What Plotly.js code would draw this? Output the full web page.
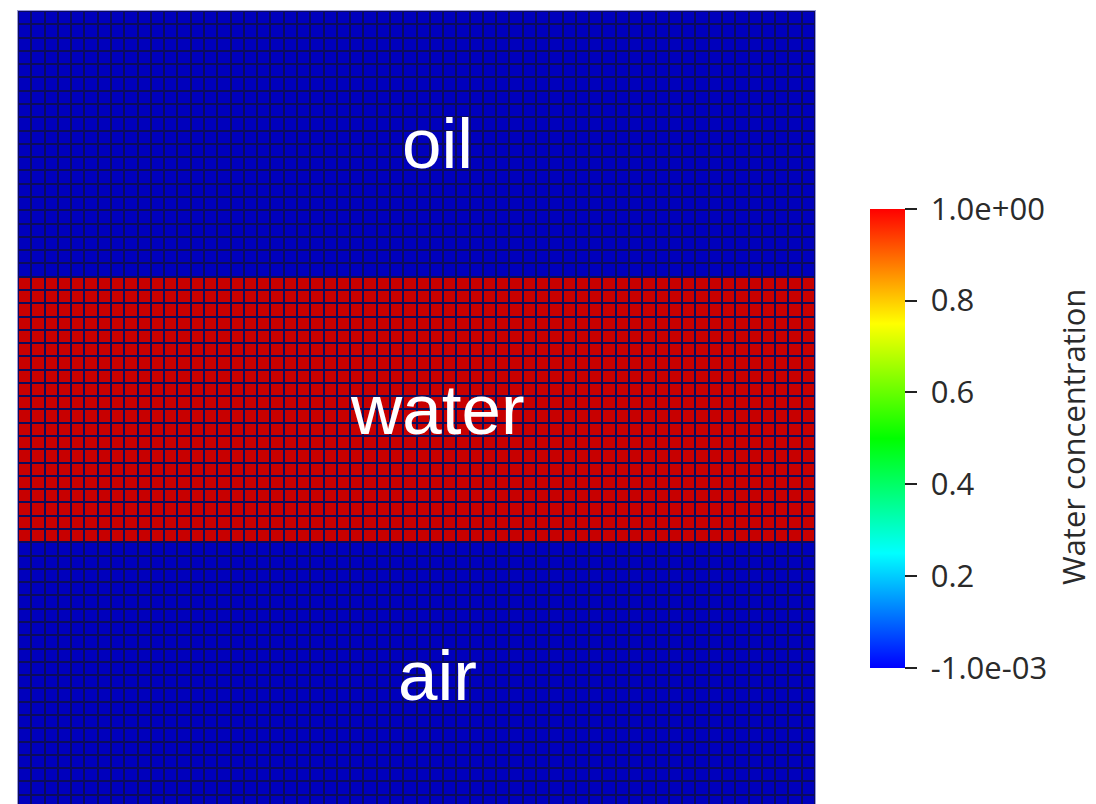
<!DOCTYPE html>
<html>
<head>
<meta charset="utf-8">
<script src="https://cdn.plot.ly/plotly-3.0.1.min.js"></script>
<style>html,body{margin:0;padding:0;background:#fff;}#chart{width:1096px;height:804px;}</style>
</head>
<body>
<div id="chart"></div>
<script>
// ---- data ----
const nCols = 60;
const layerNames = ['air', 'water', 'oil'];        // bottom to top
const layerRows = [20, 20, 20];
const layerValues = [0, 1, 0];                       // water concentration
const cbTickVals = [-0.001, 0.2, 0.4, 0.6, 0.8, 1.0];
const cbTickText = ['-1.0e-03', '0.2', '0.4', '0.6', '0.8', '1.0e+00'];
const cbTitle = 'Water concentration';
const zMin = -0.001, zMax = 1.0;

// ---- build grid ----
const z = [];
const yCenters = [];
const annY = [], annText = [];
let row = 0;
layerNames.forEach((name, i) => {
  const start = row;
  for (let r = 0; r < layerRows[i]; r++) {
    z.push(new Array(nCols).fill(layerValues[i]));
    yCenters.push(row + 0.5);
    row++;
  }
  annText.push(name);
  annY.push((start + row) / 2);
});
const xCenters = Array.from({length: nCols}, (_, i) => i + 0.5);
const nRows = row;

const cellTrace = {
  type: 'heatmap',
  x: xCenters, y: yCenters, z: z,
  zmin: zMin, zmax: zMax,
  colorscale: [[0, '#0000bd'], [1, '#c80000']],
  xgap: 2, ygap: 2,
  showscale: false,
  hoverinfo: 'skip'
};

const scaleTrace = {
  type: 'scatter', mode: 'markers',
  x: [null, null], y: [null, null],
  showlegend: false, hoverinfo: 'skip',
  marker: {
    color: [zMin, zMax], cmin: zMin, cmax: zMax,
    colorscale: [[0, '#0000ff'], [0.25, '#00ffff'], [0.5, '#00ff00'], [0.75, '#ffff00'], [1, '#ff0000']],
    showscale: true,
    colorbar: {
      xref: 'container', x: 870 / 1096, xanchor: 'left', xpad: 0,
      yref: 'container', y: 1 - 444.5 / 804, yanchor: 'middle', ypad: 0,
      thickness: 35, thicknessmode: 'pixels',
      len: 459, lenmode: 'pixels',
      outlinewidth: 0,
      tickmode: 'array', tickvals: cbTickVals,
      ticktext: cbTickText.map(t => '\u00a0' + t),
      ticks: 'outside', ticklen: 12, tickwidth: 2, tickcolor: '#222',
      tickfont: {family: 'Open Sans', size: 31, color: '#2a2a2a'},
      title: {text: ''}
    }
  }
};

const annotations = annText.map((t, i) => ({
  x: 31.6, y: annY[i], xref: 'x', yref: 'y',
  text: t, showarrow: false,
  xanchor: 'center', yanchor: 'middle',
  font: {family: 'Liberation Sans', size: 71, color: '#ffffff'}
}));
annotations.push({
  x: (1073 - 18) / 797, y: (804 - 437) / 793, xref: 'paper', yref: 'paper',
  text: cbTitle, showarrow: false, textangle: -90,
  xanchor: 'center', yanchor: 'middle',
  font: {family: 'Open Sans', size: 31, color: '#2a2a2a'}
});

const layout = {
  width: 1096, height: 804,
  margin: {l: 18, r: 281, t: 11, b: 0},
  paper_bgcolor: '#ffffff',
  plot_bgcolor: '#0c0c5c',
  xaxis: {range: [0, nCols], showgrid: false, zeroline: false, showticklabels: false, ticks: '',
          showline: true, linecolor: '#9a9ad8', linewidth: 1, mirror: true, fixedrange: true},
  yaxis: {range: [nRows - 793 / 13.283, nRows], showgrid: false, zeroline: false, showticklabels: false, ticks: '',
          showline: true, linecolor: '#9a9ad8', linewidth: 1, mirror: true, fixedrange: true},
  annotations: annotations,
  showlegend: false
};

Plotly.newPlot('chart', [cellTrace, scaleTrace], layout, {displayModeBar: false, staticPlot: true});
</script>
</body>
</html>
